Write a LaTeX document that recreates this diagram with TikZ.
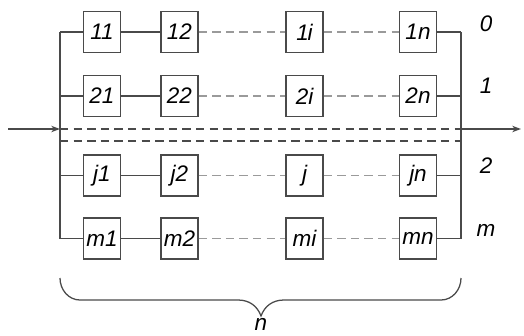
\documentclass[tikz,border=0pt]{standalone}
\usepackage{fontspec}
\setmainfont{Liberation Sans}
\usetikzlibrary{arrows.meta,positioning}
\definecolor{schemegray}{HTML}{4A4A4A}
\definecolor{dashgray}{HTML}{9A9A9A}

\begin{document}
\begin{tikzpicture}[x=0.025cm,y=-0.025cm,font=\fontsize{16}{18}\selectfont\itshape,
 elem/.style={draw=schemegray,line width=0.9pt,fill=white,minimum width=0.925cm,minimum height=1.025cm,inner sep=0pt},
 link/.style={draw=schemegray,line width=0.9pt},
 gap/.style={draw=dashgray,line width=0.9pt,dash pattern=on 2.1mm off 1.3mm},
 split/.style={draw=schemegray,line width=0.9pt,dash pattern=on 2.1mm off 1.3mm},
 level/.style={font=\fontsize{16}{18}\selectfont\itshape}]
\useasboundingbox (0,0) rectangle (524,335);
% rows 1, 2, j, m and columns 1, 2, i, n
\node[elem] (e11) at (102,32) {11};
\node[elem] (e12) at (179.5,32) {12};
\node[elem] (e1i) at (304.5,32) {1\kern-0.05em i};
\node[elem] (e1n) at (418,32) {1n};
\node[elem] (e21) at (102,96) {21};
\node[elem] (e22) at (179.5,96) {22};
\node[elem] (e2i) at (304.5,96) {2i};
\node[elem] (e2n) at (418,96) {2n};
\node[elem] (ej1) at (102,175.5) {j1};
\node[elem] (ej2) at (179.5,175.5) {j2};
\node[elem] (eji) at (304.5,175.5) {j};
\node[elem] (ejn) at (418,175.5) {jn};
\node[elem] (em1) at (102,238.5) {m1};
\node[elem] (em2) at (179.5,238.5) {m2};
\node[elem] (emi) at (304.5,238.5) {mi};
\node[elem] (emn) at (418,238.5) {mn};
% buses
\coordinate (lt) at (60,32);\coordinate (lb) at (60,238.5);
\coordinate (rt) at (461,32);\coordinate (rb) at (461,238.5);
\coordinate (in) at (8,129);\coordinate (lin) at (60,129);
\coordinate (rin) at (461,129);\coordinate (out) at (521,129);
\coordinate (lsp) at (60,141);\coordinate (rsp) at (461,141);
\draw[link] (lt)--(lb);\draw[link] (rt)--(rb);
\draw[link] (lt)--(e11);\draw[link] (60,96)--(e21);\draw[link] (60,175.5)--(ej1);\draw[link] (lb)--(em1);
\draw[link] (e1n)--(rt);\draw[link] (e2n)--(461,96);\draw[link] (ejn)--(461,175.5);\draw[link] (emn)--(rb);
\draw[link] (e11)--(e12);\draw[link] (e21)--(e22);\draw[link] (ej1)--(ej2);\draw[link] (em1)--(em2);
\draw[gap] (e12)--(e1i);\draw[gap] (e1i)--(e1n);
\draw[gap] (e22)--(e2i);\draw[gap] (e2i)--(e2n);
\draw[gap] (ej2)--(eji);\draw[gap] (eji)--(ejn);
\draw[gap] (em2)--(emi);\draw[gap] (emi)--(emn);
\draw[link,-{Stealth[length=2.2mm,width=1.6mm]}] (in)--(lin);
\draw[link,-{Stealth[length=2.2mm,width=1.6mm]}] (rin)--(out);
\draw[split] (lin)--(rin);\draw[split] (lsp)--(rsp);
% level labels
\node[level] (l0) at (486,24) {0};
\node[level] (l1) at (486,86) {1};
\node[level] (l2) at (486,166) {2};
\node[level] (lm) at (486,230) {m};
% brace
\draw[link] (60,278) to[out=-90,in=180] (80,300) -- (238,300) to[out=0,in=110] (261,316)
 to[out=70,in=180] (284,300) -- (441,300) to[out=0,in=-90] (461,278);
\node[level,anchor=base,inner sep=0pt] (cnt) at (261,330) {n};
\end{tikzpicture}
\end{document}
